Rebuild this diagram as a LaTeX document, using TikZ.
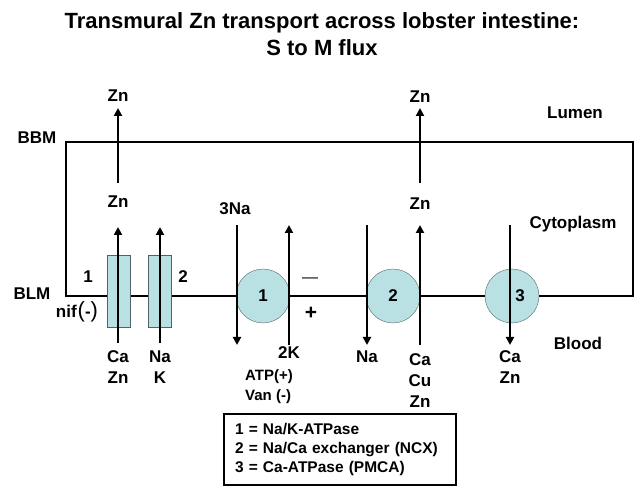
\documentclass[tikz,border=0pt]{standalone}
\usepackage{fontspec}
\setmainfont{Liberation Sans}
\usetikzlibrary{arrows.meta}
\definecolor{xTeal}{RGB}{185,224,227}
\definecolor{xEdge}{RGB}{80,100,102}
\newcommand{\Fs}[2]{\fontsize{#1}{#2}\selectfont\bfseries}
\tikzset{
  lbl/.style={font=\Fs{17}{21}, inner sep=1pt, align=center},
  small/.style={font=\Fs{15}{20}, inner sep=1pt, align=left},
  pump/.style={circle, draw=xEdge, thin, fill=xTeal, minimum size=54pt, inner sep=0pt, font=\Fs{17}{21}},
  chan/.style={draw=xEdge, thin, fill=xTeal, minimum width=23pt, minimum height=72pt, inner sep=0pt},
  membrane/.style={line width=2.6pt, line join=miter},
  flux/.style={-{Triangle[width=8pt,length=8pt]}, line width=2.6pt},
}

\begin{document}
\begin{tikzpicture}[x=1pt,y=-1pt]
    \useasboundingbox (0,0) rectangle (638,486);
    \node[font=\Fs{22}{27}, align=center] (title) at (322,34.5)
      {Transmural Zn transport across lobster intestine:\\S to M flux};
    \coordinate (tl) at (66,142);
    \coordinate (tr) at (633,142);
    \coordinate (br) at (633,296);
    \coordinate (bl) at (66,296);
    \draw[membrane] (bl) -- (tl) -- (tr) -- (br) -- cycle;
    \node[lbl] (bbm)   at (37,138)  {BBM};
    \node[lbl] (blm)   at (32,294)  {BLM};
    \node[lbl] (nif)   at (77,312)  {nif\hspace{1pt}{\fontsize{22}{22}\selectfont\mdseries(}-{\fontsize{22}{22}\selectfont\mdseries)}};
    \node[lbl] (lumen) at (575,113) {Lumen};
    \node[lbl] (cyto)  at (573,224) {Cytoplasm};
    \node[lbl] (blood) at (578,343) {Blood};
    \node[chan] (ch1) at (118.5,291) {};
    \node[chan] (ch2) at (160,291)   {};
    \node[lbl] (n1) at (88,277)  {1};
    \node[lbl] (n2) at (183,277) {2};
    \node[pump] (p1) at (263,296) {1};
    \node[pump] (p2) at (393,296) {2};
    \node[pump] (p3) at (512,296) {\hspace*{16pt}3};
    \node[lbl] (zTop1) at (118,96)  {Zn};
    \node[lbl] (zMid1) at (118,202) {Zn};
    \node[lbl] (zTop2) at (420,97)  {Zn};
    \node[lbl] (zMid2) at (420,204) {Zn};
    \node[lbl] (na3)   at (235,209) {3Na};
    \node[lbl] (k2)    at (289,353) {2K};
    \node[lbl, font=\fontsize{16}{16}\selectfont] (neg) at (310,280) {---};
    \node[lbl, font=\Fs{21}{21}] (pos) at (311,313) {+};
    \node[lbl] (caZn1) at (118,367.5) {Ca\\Zn};
    \node[lbl] (naK)   at (160,367.5) {Na\\K};
    \node[small] (atp) at (269,387) {ATP(+)\\Van (-)};
    \node[lbl] (na1)   at (367,357) {Na};
    \node[lbl] (caCuZn) at (420,381) {Ca\\Cu\\Zn};
    \node[lbl] (caZn3) at (510,367.5) {Ca\\Zn};
    \foreach \n/\x/\ya/\yb in {za/118/183/108, zb/420/183/108, ca/118/343/227, nk/160/343/227,
                               nap/237/225/345, kp/289/345/225, nax/367/225/345, cax/420/345/225, cap/510/225/345} {
      \coordinate (\n s) at (\x,\ya);
      \coordinate (\n e) at (\x,\yb);
      \draw[flux] (\n s) -- (\n e);
    }
    \node[draw, line width=2pt, font=\Fs{15.5}{19}, align=left, inner xsep=11pt,
          text width=210pt, minimum height=71pt] (key) at (340,449.5)
      {1 = Na/K-ATPase\\2 = Na/Ca exchanger (NCX)\\3 = Ca-ATPase (PMCA)};
\end{tikzpicture}
\end{document}
